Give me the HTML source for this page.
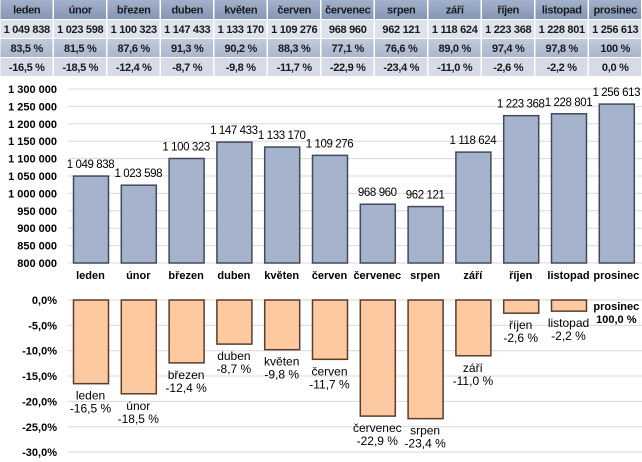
<!DOCTYPE html>
<html><head><meta charset="utf-8"><style>
body{margin:0;background:#fff;width:642px;height:462px;overflow:hidden}
svg{display:block;font-family:"Liberation Sans",sans-serif}
</style></head><body>
<svg width="642" height="462" xmlns="http://www.w3.org/2000/svg">
<defs>
<linearGradient id="hd" x1="0" y1="0" x2="0" y2="1"><stop offset="0" stop-color="#a3b2cb"/><stop offset="1" stop-color="#8496b5"/></linearGradient>
<linearGradient id="r3" x1="0" y1="0" x2="0" y2="1"><stop offset="0" stop-color="#c2cbdc"/><stop offset="1" stop-color="#a9b6cd"/></linearGradient>
</defs>
<g id="tbl"></g>
<g id="top"></g>
<g id="bot"></g>
<script>
var m=["leden","únor","březen","duben","květen","červen","červenec","srpen","září","říjen","listopad","prosinec"];
var v=["1 049 838","1 023 598","1 100 323","1 147 433","1 133 170","1 109 276","968 960","962 121","1 118 624","1 223 368","1 228 801","1 256 613"];
var nv=[1049838,1023598,1100323,1147433,1133170,1109276,968960,962121,1118624,1223368,1228801,1256613];
var p=["83,5 %","81,5 %","87,6 %","91,3 %","90,2 %","88,3 %","77,1 %","76,6 %","89,0 %","97,4 %","97,8 %","100 %"];
var d=["-16,5 %","-18,5 %","-12,4 %","-8,7 %","-9,8 %","-11,7 %","-22,9 %","-23,4 %","-11,0 %","-2,6 %","-2,2 %","0,0 %"];
var dn=[16.5,18.5,12.4,8.7,9.8,11.7,22.9,23.4,11.0,2.6,2.2,0];
var NS="http://www.w3.org/2000/svg";
function el(g,t,a,txt){var e=document.createElementNS(NS,t);for(var k in a)e.setAttribute(k,a[k]);if(txt!=null)e.textContent=txt;g.appendChild(e);return e;}
var T=document.getElementById("tbl");
var rows=[[0,19,"url(#hd)",m],[20,18,"#dde3ed",v],[39,18,"url(#r3)",p],[58,18,"#d5dce8",d]];
var cw=642/12;
rows.forEach(function(r){for(var i=0;i<12;i++){var x=i*cw;el(T,"rect",{x:x+0.5,y:r[0],width:cw-1.5,height:r[1],fill:r[2]});
el(T,"text",{x:x+cw/2,y:r[0]+r[1]/2+4,"text-anchor":"middle","font-size":"11","font-weight":"bold","letter-spacing":"-0.3",fill:"#1a1a1a"},r[3][i]);}});
var G=document.getElementById("top");
function yT(val){return 263-(val-800000)/50000*17.4;}
for(var k=0;k<=10;k++){var val=800000+k*50000,y=yT(val);
el(G,"line",{x1:68,x2:642,y1:y,y2:y,stroke:"#d9d9d9","stroke-width":1});
var s=String(val).replace(/\B(?=(\d{3})+(?!\d))/g," ");
el(G,"text",{x:57,y:y+4,"text-anchor":"end","font-size":"11","font-weight":"bold"},s);}
for(var i=0;i<12;i++){var c=90.5+47.8*i,y=yT(nv[i]);
el(G,"rect",{x:c-17,y:y,width:35,height:263-y,fill:"#a5b3cc",stroke:"#404a5c","stroke-width":1.5});
el(G,"text",{x:c,y:y-8,"text-anchor":"middle","font-size":"11.5","letter-spacing":"-0.4"},v[i]);
el(G,"text",{x:c,y:279,"text-anchor":"middle","font-size":"11","font-weight":"bold"},m[i]);}
var B=document.getElementById("bot");
function yB(pc){return 300+pc*5.07;}
for(var k=0;k<=6;k++){var y=yB(k*5);
el(B,"line",{x1:68,x2:642,y1:y,y2:y,stroke:"#d9d9d9","stroke-width":1});
el(B,"text",{x:57,y:y+4,"text-anchor":"end","font-size":"11","font-weight":"bold"},(k==0?"0,0%":"-"+(k*5)+",0%"));}
for(var i=0;i<12;i++){var c=90.5+47.8*i,y=yB(dn[i]);
if(dn[i]>0){el(B,"rect",{x:c-17,y:300,width:35,height:y-300,fill:"#fdc9a0",stroke:"#5a3d2a","stroke-width":1.5});
el(B,"text",{x:c,y:y+16,"text-anchor":"middle","font-size":"12"},m[i]);
el(B,"text",{x:c,y:y+29,"text-anchor":"middle","font-size":"12"},d[i]);}
else{el(B,"text",{x:c,y:310,"text-anchor":"middle","font-size":"11","font-weight":"bold"},m[i]);
el(B,"text",{x:c,y:323,"text-anchor":"middle","font-size":"11","font-weight":"bold"},"100,0 %");}}
</script>
</svg>
</body></html>
